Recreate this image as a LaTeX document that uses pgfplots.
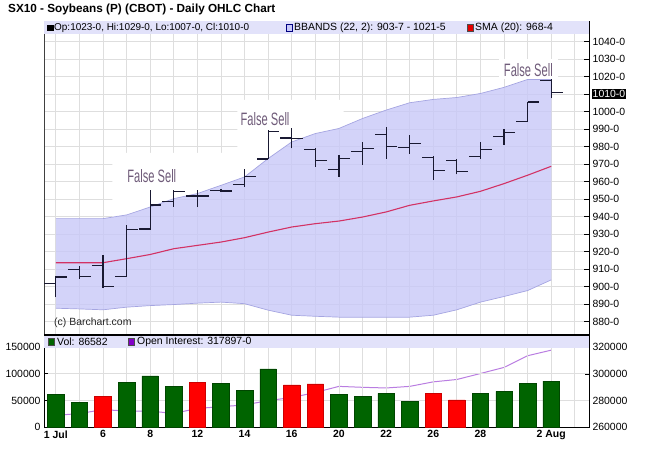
\documentclass[border=0pt]{standalone}
\usepackage{pgfplots}
\pgfplotsset{compat=1.18}
\usepackage{pgfplotstable}
\usepackage{graphicx}
\usepackage{fontspec}
\setmainfont{Liberation Sans}

\definecolor{bandfill}{RGB}{200,200,248}
\definecolor{bandedge}{RGB}{165,165,225}
\definecolor{legbg}{RGB}{226,226,250}
\definecolor{gridc}{RGB}{222,222,222}
\definecolor{ohlc}{RGB}{25,25,50}
\definecolor{smac}{RGB}{210,50,100}
\definecolor{volg}{RGB}{0,100,0}
\definecolor{volr}{RGB}{255,0,0}
\definecolor{oic}{RGB}{185,125,225}
\definecolor{oisq}{RGB}{130,0,200}
\definecolor{fsc}{RGB}{112,92,122}

\newcommand\tickfont{\fontsize{10.5}{12}\selectfont}
\newcommand\legfont{\fontsize{10.5}{12}\selectfont}

\pgfplotstableread{
x o h l c
0 902 906 894 905.5
1 910 912 904.5 906
2 912 918 899.5 900
3 906 935.4 905.6 932.7
4 933 955 932.5 946.7
5 948.6 955.3 945.7 954.3
6 951.8 955 945.5 951.8
7 955 956 954 954.7
8 958.5 967.1 957.1 962.9
9 973 989.4 973 988.5
10 985 990.4 979 984.6
11 978.5 979 968.4 972.3
12 967.1 975.1 962.7 973.2
13 977.4 982.7 969.8 978.9
14 986.9 991.3 973.2 979.9
15 979.5 986.9 976 981.8
16 973.6 974.5 961.2 966.3
17 972.3 973.2 964.2 965.6
18 974.2 982.4 973.2 978.5
19 986 990 981.2 988.1
20 994.6 1005.6 994.2 1005.5
21 1018 1018.4 1007.8 1010.8
}\ohlcdata

\pgfplotstableread{
x up lo sma
0 938.9 887.7 913.7
1 938.9 887.3 913.7
2 938.9 886.8 913.7
3 941 888.3 916
4 945.5 889.2 918.4
5 950.3 889.8 921.7
6 953.2 890.6 923.6
7 957.9 891.2 925.5
8 962.7 890.3 928
9 973.2 886.6 931.2
10 982.7 883.7 934.1
11 987.5 883.1 936
12 990.4 882.6 937.5
13 996.1 882.6 939.8
14 1000.9 882.6 942.7
15 1005.1 882.6 946.5
16 1007 883.7 949
17 1008.1 886.8 951.3
18 1010.4 891.2 954.5
19 1013.9 894.4 958.9
20 1018.4 897.8 963.7
21 1018.4 903.9 968.8
}\bbdata

% band outline (upper edge left to right, lower edge right to left)
\pgfplotstableread{
x y
0 938.9
1 938.9
2 938.9
3 941
4 945.5
5 950.3
6 953.2
7 957.9
8 962.7
9 973.2
10 982.7
11 987.5
12 990.4
13 996.1
14 1000.9
15 1005.1
16 1007
17 1008.1
18 1010.4
19 1013.9
20 1018.4
21 1018.4
21 903.9
20 897.8
19 894.4
18 891.2
17 886.8
16 883.7
15 882.6
14 882.6
13 882.6
12 882.6
11 883.1
10 883.7
9 886.6
8 890.3
7 891.2
6 890.6
5 889.8
4 889.2
3 888.3
2 886.8
1 887.3
0 887.7
}\bandpoly

\pgfplotstableread{
x v
0 61400
1 46200
3 84200
4 96200
5 77200
7 82300
8 69000
9 109500
12 62000
13 58200
14 63300
15 48100
18 63300
19 67100
20 82300
21 86582
}\volgreen

\pgfplotstableread{
x v
2 58200
6 84200
10 79100
11 81000
16 63300
17 51300
}\volred

\pgfplotstableread{
x oi
0 268800
1 270100
2 273100
3 272000
4 272000
5 270200
6 274000
7 275300
8 276600
9 279900
10 282200
11 286000
12 290600
13 289900
14 289400
15 290600
16 294000
17 295800
18 300300
19 304900
20 313700
21 317897
}\oidata

\begin{document}
\begin{tikzpicture}
\useasboundingbox (0,0) rectangle (650bp,-454bp);
\node[anchor=west, inner sep=0, font=\bfseries\fontsize{11.8}{14}\selectfont] at (8bp,-9bp) {SX10 - Soybeans (P) (CBOT) - Daily OHLC Chart};

% ---------------- top panel ----------------
\begin{axis}[
  name=top,
  at={(44bp,-335bp)}, anchor=south west,
  width=545bp, height=314bp, scale only axis,
  xmin=-0.5, xmax=22.6, ymin=872.4, ymax=1051.8,
  xtick={0,...,22}, xticklabels={},
  major x tick style={draw=none},
  ytick={880,890,...,1040},
  yticklabels={880-0,890-0,900-0,910-0,920-0,930-0,940-0,950-0,960-0,970-0,980-0,990-0,1000-0,1010-0,1020-0,1030-0,1040-0},
  ytick pos=right, yticklabel pos=right,
  tick align=inside, major tick length=5bp,
  major tick style={black, line width=0.8bp},
  yticklabel style={font=\tickfont, anchor=west},
  grid=major, major grid style={gridc, line width=0.8bp},
  axis line style={black!75, line width=0.8bp},
  clip=false,
]
% white patches behind annotations
\fill[white] (axis cs:2.4,976.5) -- (axis cs:8.6,976.5) -- (axis cs:8.6,964) -- (axis cs:8,962.7) -- (axis cs:7,957.9) -- (axis cs:6,953.2) -- (axis cs:5,950.3) -- (axis cs:4,945.5) -- (axis cs:3,941) -- (axis cs:2.4,939.5) -- cycle;
\fill[white] (axis cs:7.7,1006.7) -- (axis cs:12.2,1006.7) -- (axis cs:12.2,990.5) -- (axis cs:12,990.4) -- (axis cs:11,987.5) -- (axis cs:10,982.7) -- (axis cs:9,973.2) -- (axis cs:8,962.7) -- (axis cs:7.7,961) -- cycle;
\fill[white] (axis cs:18.8,1030.2) rectangle (axis cs:21.3,1018.6);

% Bollinger band
\addplot[fill=bandfill, fill opacity=0.8, draw=none] table[x=x, y=y]\bandpoly;
\addplot[bandedge, line width=0.7bp] table[x=x, y=up]\bbdata;
\addplot[bandedge, line width=0.7bp] table[x=x, y=lo]\bbdata;
% SMA
\addplot[smac, line width=1.1bp] table[x=x, y=sma]\bbdata;
% OHLC
\addplot[draw=none, mark=none, mark size=0pt, error bars/.cd, y dir=plus, y explicit, error mark=none,
  error bar style={draw=ohlc, line width=1.2bp}]
  table[x=x, y=l, y error expr=\thisrow{h}-\thisrow{l}]\ohlcdata;
\addplot[draw=none, mark=none, mark size=0pt, error bars/.cd, x dir=minus, x fixed=0.48, error mark=none,
  error bar style={draw=ohlc, line width=1.2bp}]
  table[x=x, y=o]\ohlcdata;
\addplot[draw=none, mark=none, mark size=0pt, error bars/.cd, x dir=plus, x fixed=0.48, error mark=none,
  error bar style={draw=ohlc, line width=1.2bp}]
  table[x=x, y=c]\ohlcdata;

% annotations
\node[fsc, inner sep=0] at (axis cs:4.07,963.4) {\scalebox{0.62}[1]{\fontsize{18}{18}\selectfont False Sell}};
\node[fsc, inner sep=0] at (axis cs:8.87,995.8) {\scalebox{0.62}[1]{\fontsize{18}{18}\selectfont False Sell}};
\node[fsc, inner sep=0] at (axis cs:20.03,1023.8) {\scalebox{0.62}[1]{\fontsize{18}{18}\selectfont False Sell}};
\node[anchor=west, inner sep=0, font=\legfont, black!85] at ([xshift=10bp, yshift=12bp]rel axis cs:0,0) {(c) Barchart.com};

% legend band
\fill[legbg] (rel axis cs:0,1) rectangle ([yshift=-13bp]rel axis cs:1,1);
\fill[black] ([xshift=3bp,yshift=-3.5bp]rel axis cs:0,1) rectangle ++(6.5bp,-6.5bp);
\node[anchor=west, inner sep=0, font=\fontsize{10}{12}\selectfont] at ([xshift=10bp,yshift=-6.8bp]rel axis cs:0,1) {Op:1023-0, Hi:1029-0, Lo:1007-0, Cl:1010-0};
\filldraw[fill=bandfill, draw=blue!50!black] ([xshift=242bp,yshift=-3.5bp]rel axis cs:0,1) rectangle ++(6.5bp,-6.5bp);
\node[anchor=west, inner sep=0, font=\legfont] at ([xshift=250bp,yshift=-6.8bp]rel axis cs:0,1) {BBANDS (22, 2): 903-7 - 1021-5};
\filldraw[fill=red!90!black, draw=black!70] ([xshift=423bp,yshift=-3.5bp]rel axis cs:0,1) rectangle ++(6.5bp,-6.5bp);
\node[anchor=west, inner sep=0, font=\legfont] at ([xshift=431bp,yshift=-6.8bp]rel axis cs:0,1) {SMA (20): 968-4};

% last close marker
\node[fill=black, text=white, anchor=west, inner sep=1bp, font=\tickfont] at ([xshift=2.5bp]axis cs:22.6,1010) {1010-0};
\end{axis}

% ---------------- bottom panel: open interest (right axis) ----------------
\begin{axis}[
  at={(44bp,-427bp)}, anchor=south west,
  width=545bp, height=92bp, scale only axis,
  xmin=-0.5, xmax=22.6, ymin=260000, ymax=329300,
  axis x line=none, axis y line*=right,
  ytick={260000,280000,300000,320000},
  yticklabels={260000,280000,300000,320000},
  scaled y ticks=false,
  tick align=inside, major tick length=4bp,
  major tick style={black, line width=0.8bp},
  yticklabel style={font=\tickfont, anchor=west},
  y axis line style={black, line width=1bp},
  clip=false,
]
\addplot[oic, line width=1bp] table[x=x, y=oi]\oidata;
\end{axis}

% ---------------- bottom panel: volume (left axis) ----------------
\begin{axis}[
  at={(44bp,-427bp)}, anchor=south west,
  width=545bp, height=92bp, scale only axis,
  xmin=-0.5, xmax=22.6, ymin=0, ymax=173240,
  xtick={0,...,22},
  xticklabels={1 Jul,,6,,8,,12,,14,,16,,20,,22,,26,,28,,,2 Aug,},
  xticklabel style={font=\bfseries\tickfont},
  major x tick style={draw=none},
  ytick={0,50000,100000,150000},
  yticklabels={0,50000,100000,150000},
  scaled y ticks=false,
  ytick pos=left,
  yticklabel style={font=\tickfont},
  tick align=inside, major tick length=4bp,
  major tick style={black, line width=0.8bp},
  grid=major, major grid style={gridc, line width=0.8bp},
  axis line style={black, line width=1bp},
  clip=false,
]
\addplot[ybar, bar width=0.7, bar shift=0pt, fill=volg, draw=volg!70!black, line width=0.5bp] table[x=x, y=v]\volgreen;
\addplot[ybar, bar width=0.7, bar shift=0pt, fill=volr, draw=volr!80!black, line width=0.5bp] table[x=x, y=v]\volred;
\fill[legbg] (rel axis cs:0,1) rectangle ([yshift=-13bp]rel axis cs:1,1);
\filldraw[fill=volg, draw=black!70] ([xshift=4bp,yshift=-3.5bp]rel axis cs:0,1) rectangle ++(6.5bp,-6.5bp);
\node[anchor=west, inner sep=0, font=\legfont] at ([xshift=13bp,yshift=-6.8bp]rel axis cs:0,1) {Vol: 86582};
\filldraw[fill=oisq, draw=black!70] ([xshift=84bp,yshift=-3.5bp]rel axis cs:0,1) rectangle ++(6.5bp,-6.5bp);
\node[anchor=west, inner sep=0, font=\legfont] at ([xshift=93bp,yshift=-6.8bp]rel axis cs:0,1) {Open Interest: 317897-0};
\end{axis}

\draw[black, line width=1.8bp] (44bp,-335bp) -- (589bp,-335bp);
\draw[black, line width=1bp] (589bp,-21bp) -- (589bp,-427bp);
\end{tikzpicture}
\end{document}
